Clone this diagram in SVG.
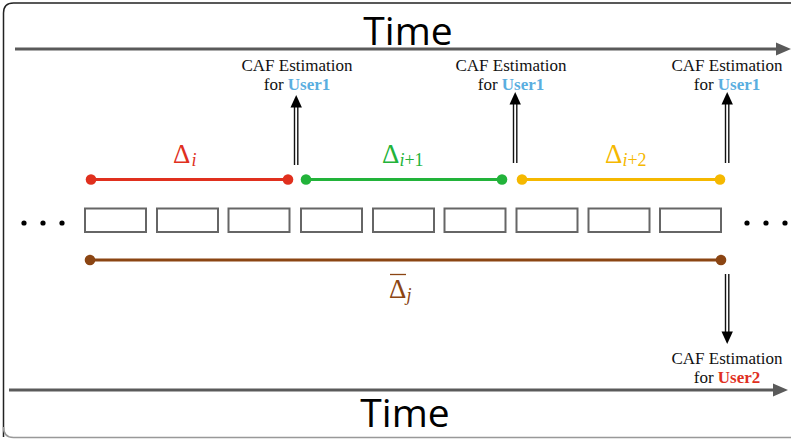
<svg xmlns="http://www.w3.org/2000/svg" width="791" height="440" viewBox="0 0 791 440">
  <style>
    .time { font-family: "Open Sans", "Liberation Sans", sans-serif; font-size: 39px; fill: #000; text-anchor: middle; }
    .caf { font-family: "Liberation Serif", "Times New Roman", serif; font-size: 17px; fill: #111; text-anchor: middle; }
    .u1 { fill: #5AAEDF; font-weight: bold; }
    .u2 { fill: #E0301E; font-weight: bold; }
    .delta { font-family: "Liberation Serif", "DejaVu Serif", serif; font-size: 27px; }
    .sub { font-family: "Liberation Serif", "DejaVu Serif", serif; font-size: 18px; font-style: italic; }
    .subn { font-family: "Liberation Serif", "DejaVu Serif", serif; font-size: 18px; font-style: normal; }
    .axis { stroke: #5A5A5A; stroke-width: 3; fill: none; }
    .axishead { fill: #5A5A5A; }
    .slot { fill: #fff; stroke: #666; stroke-width: 2; }
    .shaft { stroke: #111; stroke-width: 1.4; }
    .head { fill: #000; }
    .dot { fill: #000; }
  </style>

  <!-- outer frame -->
  <path d="M 3.5 437 L 3.5 13 Q 3.5 3 13.5 3 L 800 3" fill="none" stroke="#222" stroke-width="1.5"/>
  <path d="M 3.5 427 Q 3.5 437.5 13.5 437.5 L 800 437.5" fill="none" stroke="#999" stroke-width="1.5"/>

  <!-- time axes -->
  <g id="time-top">
    <line class="axis" x1="15" y1="49" x2="778" y2="49"/>
    <polygon class="axishead" points="776,42.5 791,49 776,55.5"/>
    <text class="time" x="408" y="45">Time</text>
  </g>
  <g id="time-bottom">
    <line class="axis" x1="9" y1="390" x2="775" y2="390"/>
    <polygon class="axishead" points="773,383.5 788,390 773,396.5"/>
    <text class="time" x="405" y="427">Time</text>
  </g>

  <!-- frame slots -->
  <g id="slots">
    <rect class="slot" x="85" y="208.5" width="61" height="23.5"/>
    <rect class="slot" x="157" y="208.5" width="61" height="23.5"/>
    <rect class="slot" x="228.5" y="208.5" width="61" height="23.5"/>
    <rect class="slot" x="301" y="208.5" width="61" height="23.5"/>
    <rect class="slot" x="373" y="208.5" width="61" height="23.5"/>
    <rect class="slot" x="444.5" y="208.5" width="61" height="23.5"/>
    <rect class="slot" x="516.5" y="208.5" width="61" height="23.5"/>
    <rect class="slot" x="588.5" y="208.5" width="61" height="23.5"/>
    <rect class="slot" x="660" y="208.5" width="61" height="23.5"/>
  </g>

  <!-- ellipses -->
  <g id="dots-left">
    <circle class="dot" cx="24" cy="223" r="2.6"/>
    <circle class="dot" cx="43" cy="223" r="2.6"/>
    <circle class="dot" cx="62" cy="223" r="2.6"/>
  </g>
  <g id="dots-right">
    <circle class="dot" cx="747" cy="223" r="2.6"/>
    <circle class="dot" cx="766" cy="223" r="2.6"/>
    <circle class="dot" cx="785" cy="223" r="2.6"/>
  </g>

  <!-- interval delta_i -->
  <g id="delta-i">
    <line x1="91" y1="179.5" x2="288" y2="179.5" stroke="#E0301E" stroke-width="2.8"/>
    <circle cx="91" cy="179.5" r="5.3" fill="#E0301E"/>
    <circle cx="288" cy="179.5" r="5.3" fill="#E0301E"/>
    <text class="delta" x="173" y="163" fill="#E0301E">Δ<tspan class="sub" dx="1" dy="3">i</tspan></text>
  </g>

  <!-- interval delta_i+1 -->
  <g id="delta-i1">
    <line x1="306" y1="179.5" x2="502" y2="179.5" stroke="#22B33A" stroke-width="2.8"/>
    <circle cx="306" cy="179.5" r="5.3" fill="#22B33A"/>
    <circle cx="502" cy="179.5" r="5.3" fill="#22B33A"/>
    <text class="delta" x="382" y="163" fill="#22B33A">Δ<tspan class="sub" dy="3">i</tspan><tspan class="subn">+1</tspan></text>
  </g>

  <!-- interval delta_i+2 -->
  <g id="delta-i2">
    <line x1="522" y1="179.5" x2="720" y2="179.5" stroke="#F5B800" stroke-width="2.8"/>
    <circle cx="522" cy="179.5" r="5.3" fill="#F5B800"/>
    <circle cx="720" cy="179.5" r="5.3" fill="#F5B800"/>
    <text class="delta" x="605" y="163" fill="#F5B800">Δ<tspan class="sub" dy="3">i</tspan><tspan class="subn">+2</tspan></text>
  </g>

  <!-- long interval delta-bar_j -->
  <g id="delta-bar-j">
    <line x1="90" y1="260" x2="721" y2="260" stroke="#8B4513" stroke-width="2.8"/>
    <circle cx="90" cy="260" r="5.3" fill="#8B4513"/>
    <circle cx="721" cy="260" r="5.3" fill="#8B4513"/>
    <line x1="390" y1="274.5" x2="406" y2="274.5" stroke="#8B4513" stroke-width="1.3"/>
    <text class="delta" x="389" y="298" fill="#8B4513">Δ<tspan class="sub" dy="3">j</tspan></text>
  </g>

  <!-- estimation labels -->
  <g id="caf-1">
    <text class="caf" x="297" y="71">CAF Estimation</text>
    <text class="caf" x="297" y="90">for <tspan class="u1">User1</tspan></text>
  </g>
  <g id="caf-2">
    <text class="caf" x="511" y="71">CAF Estimation</text>
    <text class="caf" x="511" y="90">for <tspan class="u1">User1</tspan></text>
  </g>
  <g id="caf-3">
    <text class="caf" x="727" y="71">CAF Estimation</text>
    <text class="caf" x="727" y="90">for <tspan class="u1">User1</tspan></text>
  </g>
  <g id="caf-4">
    <text class="caf" x="727" y="364">CAF Estimation</text>
    <text class="caf" x="727" y="383">for <tspan class="u2">User2</tspan></text>
  </g>

  <!-- double-shaft arrows -->
  <g id="connectors">
    <line class="shaft" x1="294.5" y1="104" x2="294.5" y2="165"/>
    <line class="shaft" x1="297.8" y1="104" x2="297.8" y2="165"/>
    <polygon class="head" points="296.2,95 290.5,107.5 301.9,107.5"/>

    <line class="shaft" x1="513.5" y1="102" x2="513.5" y2="163"/>
    <line class="shaft" x1="516.8" y1="102" x2="516.8" y2="163"/>
    <polygon class="head" points="515.2,92 509.5,104.5 520.9,104.5"/>

    <line class="shaft" x1="725.5" y1="102" x2="725.5" y2="163"/>
    <line class="shaft" x1="728.8" y1="102" x2="728.8" y2="163"/>
    <polygon class="head" points="727.2,92 721.5,104.5 732.9,104.5"/>

    <line class="shaft" x1="725.5" y1="274" x2="725.5" y2="334"/>
    <line class="shaft" x1="728.8" y1="274" x2="728.8" y2="334"/>
    <polygon class="head" points="727.2,344 721.5,331.5 732.9,331.5"/>
  </g>
</svg>
